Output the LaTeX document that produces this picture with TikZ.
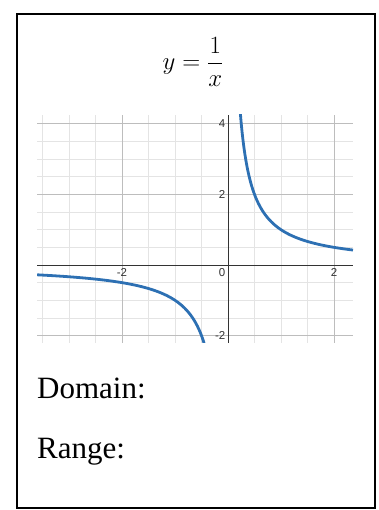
\documentclass[tikz,border=0pt]{standalone}
\usepackage{fontspec}
\setmainfont{Liberation Serif}
\setsansfont{Liberation Sans}
\usepackage{amsmath}
\usepackage{tikz}
\usetikzlibrary{positioning}
\definecolor{curveblue}{HTML}{2D70B3}
\definecolor{minorgray}{HTML}{E4E4E4}
\definecolor{majorgray}{HTML}{BDBDBD}
\definecolor{labgray}{HTML}{333333}

\begin{document}
\begin{tikzpicture}[
  x=1pt, y=-1pt,
  frame/.style={draw=black, line width=2.4pt},
  gridminor/.style={draw=minorgray, line width=0.7pt},
  gridmajor/.style={draw=majorgray, line width=0.9pt},
  axis/.style={draw=black!80, line width=1pt},
  curve/.style={draw=curveblue, line width=2.8pt},
  ticklab/.style={font=\sffamily\fontsize{11.5}{13}\selectfont, text=labgray, inner sep=1.5pt},
  caption/.style={font=\fontsize{31}{36}\selectfont, inner sep=0pt, anchor=base west},
]
  \useasboundingbox (0,0) rectangle (378,510);
  \draw[frame] (17,14) rectangle (375,508);

  \node[font=\fontsize{30}{34}\selectfont] (title) at (193,62) {$\displaystyle y=\frac{1}{x}$};

  % graph of 1/x
  \begin{scope}[shift={(228,265)}, x=53pt, y=35.3pt]
    \clip (-3.6,-2.2) rectangle (2.36,4.25);
    \draw[gridminor] (-3.6,-2.2) grid[step=0.5] (2.36,4.25);
    \draw[gridmajor] (-3.6,-2.2) grid[step=2] (2.36,4.25);
    \draw[axis] (-3.6,0) -- (2.36,0);
    \draw[axis] (0,-2.2) -- (0,4.25);
    \draw[curve, domain=0.232:2.36, samples=120] plot (\x,{1/\x});
    \draw[curve, domain=-3.6:-0.45, samples=120] plot (\x,{1/\x});
    \node[ticklab, anchor=east] (y4) at (-0.02,4) {4};
    \node[ticklab, anchor=east] (y2) at (-0.02,2) {2};
    \node[ticklab, anchor=east] (ym2) at (-0.02,-2) {-2};
    \node[ticklab, anchor=north east] (o) at (-0.02,-0.05) {0};
    \node[ticklab, anchor=north] (xm2) at (-2,-0.05) {-2};
    \node[ticklab, anchor=north] (x2) at (2,-0.05) {2};
  \end{scope}

  \node[caption] (domain) at (37,398) {Domain:};
  \node[caption] (range) at (37,458) {Range:};
\end{tikzpicture}
\end{document}
